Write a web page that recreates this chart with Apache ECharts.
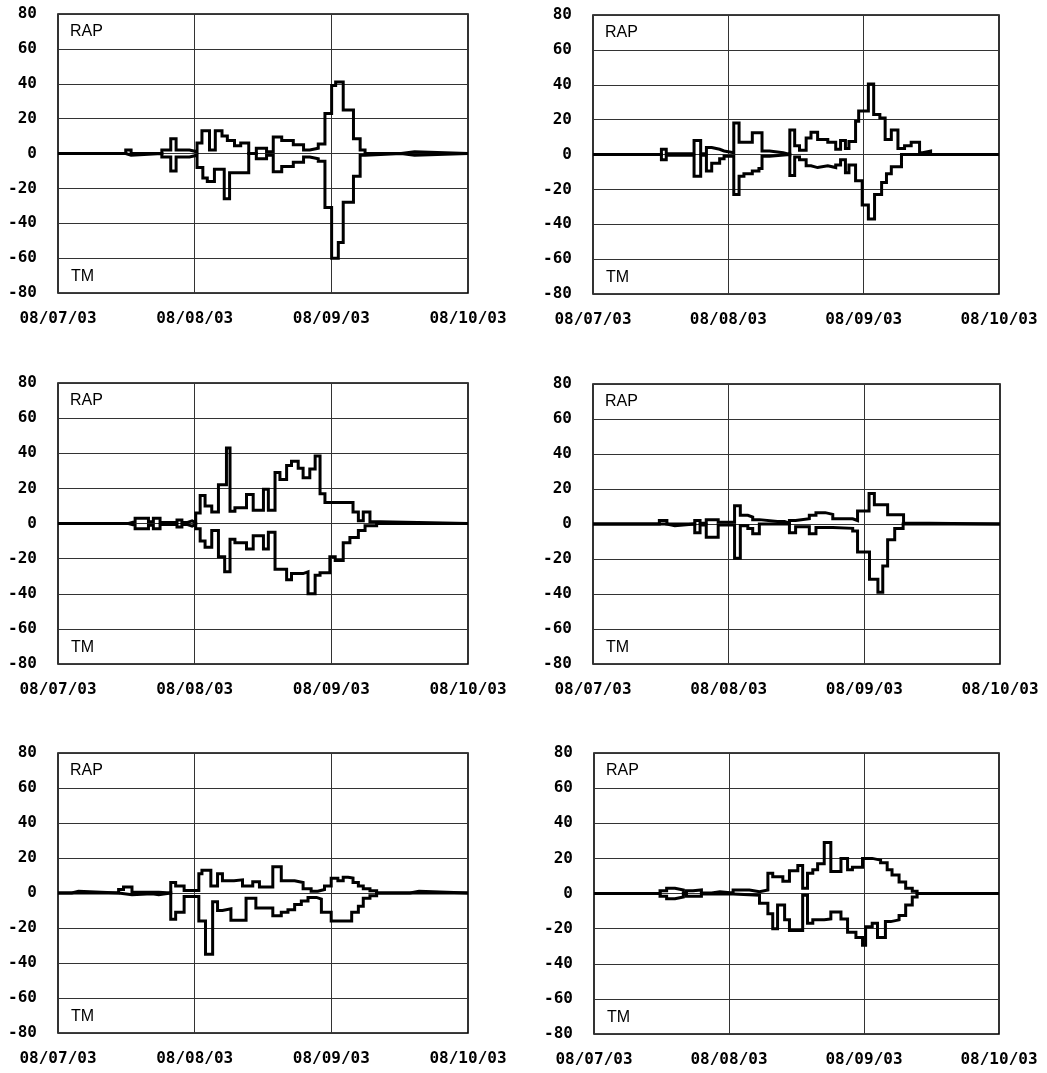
<!DOCTYPE html>
<html><head><meta charset="utf-8">
<script src="https://cdn.jsdelivr.net/npm/echarts@6/dist/echarts.min.js"></script>
<style>html,body{margin:0;padding:0;background:#fff}#c{width:1047px;height:1073px}</style>
</head><body><div id="c"></div>
<script>
// x values are days after 2008-07-03; each pair is [day, value] where the value starts
const tickLabels = ['08/07/03', '08/08/03', '08/09/03', '08/10/03'];
const spanDays = 92;
const topLabel = 'RAP';
const bottomLabel = 'TM';

const rap1 = [[0,0],[15.2,2],[16.4,0],[23.3,2],[25.3,8.5],[26.5,2],[29.5,1],[31.2,6],[32.3,13],[34,2],[35.3,13],[36.8,10],[38,7.5],[39.6,4.5],[41,6],[42.8,0],[44.5,3],[46.8,1],[48.3,9.5],[50.2,7.5],[52.8,5],[55.1,2],[56.5,3],[58.4,5.5],[59.9,23],[61.4,39],[62.3,41],[64.0,25],[66.3,8.5],[67.8,2],[68.9,0],[77,1],[80,0],[92,0]];
const tm1 = [[0,0],[15.2,-1],[16.4,0],[23.3,-2],[25.3,-10],[26.5,-2],[29.5,-1],[31.2,-8],[32.5,-14],[33.5,-16],[35.1,-9],[37.3,-26],[38.5,-11],[42.8,0],[44.5,-3],[46.8,-1],[48.3,-10.5],[50.2,-7.5],[52.8,-5],[55.1,-2],[56.5,-3],[58.4,-4.5],[59.9,-31],[61.4,-60],[62.9,-51],[64.0,-28],[66.3,-13],[67.8,-1],[68.9,0],[77,-1],[80,0],[92,0]];

const rap2 = [[0,0],[15.5,3],[16.6,0.5],[22.9,8],[24.4,0.5],[25.7,4],[26.9,3],[28.7,2],[29.7,1],[31.9,18],[33.1,7],[36.1,12.5],[38.3,2],[40,1],[43.1,0],[44.6,14],[45.7,5],[46.8,2.5],[48.3,9.5],[49.4,12.8],[50.9,8.6],[53.2,7],[55,3],[56.1,8],[57.2,3.5],[58,7.5],[59.5,19],[60.2,25],[62.4,40.5],[63.6,23],[65,21],[66.2,8.6],[67.6,14],[69.1,3.5],[70.6,5],[72.1,7],[74,1],[74.7,2],[76.5,0],[92,0]];
const tm2 = [[0,0],[15.5,-3],[16.6,-0.5],[22.9,-12.5],[24.4,-0.5],[25.7,-9.5],[26.9,-5],[28.7,-2.5],[29.7,-1],[31.9,-23],[33.1,-12.5],[34.2,-11],[36.1,-9.5],[37.6,-8],[38.3,-1],[40,0],[44.6,-12],[45.7,-1.5],[46.8,-3],[48.3,-6.5],[49.4,-7.5],[50.9,-6.5],[53.2,-7.5],[55,-6],[56.1,-3],[57.2,-10.5],[58,-6],[59.5,-15],[61,-29],[62.4,-37],[63.8,-23],[65.4,-16],[66.5,-11],[67.6,-7],[69.9,0],[92,0]];

const rap3 = [[0,0],[15.8,1],[17.3,3],[20.3,1],[21.4,3],[22.9,0.5],[26.7,2],[27.8,0.5],[28.9,1.5],[30.1,0.5],[30.9,6],[31.9,16],[33,10],[34.5,6.5],[36,22],[37.8,43],[38.6,7],[39.7,9],[42.3,16.5],[43.8,7.5],[46.1,19.5],[47.2,7.5],[48.7,29],[49.8,25],[51.3,33],[52.4,35.5],[53.9,31.5],[55,26],[56.5,31],[57.7,38.5],[58.8,17],[59.9,12],[66.2,6.5],[67.4,1.5],[68.5,6.5],[70,1],[72.3,0],[92,0]];
const tm3 = [[0,0],[15.8,-1],[17.3,-3],[20.3,-1],[21.4,-3],[22.9,-0.5],[26.7,-2],[27.8,-0.5],[28.9,-1.5],[30.1,-0.5],[30.9,-3],[31.9,-10],[33,-13.5],[34.5,-4],[36,-19],[37.4,-27.5],[38.6,-9],[39.7,-11],[42.3,-14.5],[43.8,-7],[46.1,-14.5],[47.2,-5],[48.7,-26],[51.3,-32],[52.4,-28.5],[55,-27.5],[56.1,-40],[57.7,-29.5],[58.8,-28],[61,-19],[62.2,-21],[64,-11],[65.5,-8],[67.4,-4],[68.9,-1.3],[71.5,0],[92,0]];

const rap4 = [[0,0],[15,2],[16.7,0],[23,2],[24.2,0.5],[25.6,2.5],[28.3,1],[32,10.5],[33.3,5],[35,4],[36.1,2.5],[37.6,1.5],[41.7,0.5],[42,1.5],[43.3,0.5],[44.4,2],[45.8,3],[48.9,5],[50.4,6.5],[52.5,5.5],[54.2,3],[58.7,2],[59.8,7.5],[62.4,17.5],[63.6,11],[66.6,5.3],[70.2,0.5],[74,0.5],[76,0],[92,0]];
const tm4 = [[0,0],[16.7,-1],[18.5,0],[23,-5],[24.2,-0.5],[25.6,-7.5],[28.3,-0.5],[32,-19.5],[33.3,-1],[35,-2.5],[36.1,-5.5],[37.6,0],[44.4,-5],[45.8,-1.5],[48.9,-5.5],[50.4,-2],[54.2,-2.5],[58.7,-4],[59.8,-16],[62.5,-31.5],[64.4,-39],[65.5,-24],[66.6,-9],[68.2,-2.5],[70.1,0],[92,0]];

const rap5 = [[0,0],[3.1,1],[4.6,0],[13.6,2],[14.7,3.5],[16.6,0.5],[21.1,0.5],[22.6,0],[25.3,6],[26.4,4],[28.3,1.5],[31.6,11],[32.3,13],[34.3,4],[35.8,11],[36.9,7],[39.5,7.5],[41.4,4],[43.7,6.5],[45.2,3.5],[48.2,15],[50.1,7],[53.1,6],[55,2.5],[56.8,1],[58.3,2],[59.8,4],[61.3,8.5],[62.8,7],[64,9],[65.1,8.5],[66.2,6],[67.4,4],[68.5,2.5],[70,1.3],[71.5,0],[79,1],[81,0],[92,0]];
const tm5 = [[0,0],[13.6,-1],[16.6,-0.5],[21.1,-1],[22.6,0],[25.3,-15],[26.4,-11],[28.3,-2],[31.6,-16],[33.1,-35],[34.7,-5],[35.8,-10],[36.9,-9],[38.8,-15.5],[42.2,-3],[44.4,-8.5],[48.2,-13],[50.1,-11],[51.6,-9.5],[53.1,-6.5],[54.6,-4.5],[56.1,-2.5],[58,-3.5],[59.1,-11],[61.3,-16],[65.9,-11],[67.4,-7.5],[68.5,-3],[70,-1.5],[71.5,0],[92,0]];

const rap6 = [[0,0],[15,1.5],[16.5,3],[18.4,2],[20.3,0.3],[21,1.5],[22.5,2],[24.4,0.3],[26.7,1],[28.6,0.3],[31.6,2],[35.3,1],[37.6,2],[39.5,11.5],[40.6,9.5],[42.9,7],[44.4,13],[46.3,16],[47.4,3],[48.5,11.5],[49.7,13.5],[50.8,17],[52.3,29],[53.8,12.5],[56.1,20],[57.6,13.5],[58.7,15],[61,20],[63.2,19],[65.1,17.5],[66.6,13.5],[67.7,10.5],[69.3,6.5],[70.8,3],[72.3,1.3],[73.4,0],[92,0]];
const tm6 = [[0,0],[15,-1.5],[16.5,-3],[18.4,-2],[20.3,-0.3],[21,-1.5],[24.4,-0.3],[31.6,-1],[37.6,-5.5],[39.5,-11.5],[40.6,-20],[41.7,-6.5],[43.3,-15],[44.4,-21],[47.4,-1],[48.5,-17],[49.7,-15],[52.3,-14.5],[53.8,-10.5],[56.1,-14.5],[57.6,-22],[59.5,-25],[61,-29.5],[61.7,-19],[63.2,-17],[64.4,-25],[66.2,-16],[67.4,-15],[69.3,-12.5],[70.8,-6.5],[72.3,-2],[73.4,0],[92,0]];

const panels = [[rap1, tm1], [rap2, tm2], [rap3, tm3], [rap4, tm4], [rap5, tm5], [rap6, tm6]];

const boxes = [
  {left: 58, top: 14, width: 410, height: 279},
  {left: 593, top: 15, width: 406, height: 279},
  {left: 58, top: 383, width: 410, height: 281},
  {left: 593, top: 384, width: 407, height: 280},
  {left: 58, top: 753, width: 410, height: 280},
  {left: 594, top: 753, width: 405, height: 281}
];

const chart = echarts.init(document.getElementById('c'), null, {renderer: 'canvas'});
const tickFont = {color: '#000', fontFamily: 'DejaVu Sans Mono', fontWeight: 'bold', fontSize: 16};
const gridLine = {show: true, lineStyle: {color: '#333', width: 1}};
const step = spanDays / 3;

const option = {
  animation: false,
  backgroundColor: '#fff',
  grid: boxes.map(b => ({left: b.left, top: b.top, width: b.width, height: b.height, show: true, borderColor: '#000', borderWidth: 1.6, containLabel: false})),
  xAxis: boxes.map((b, i) => ({
    type: 'value', gridIndex: i, min: 0, max: spanDays, interval: step,
    axisLine: {show: false}, axisTick: {show: false}, splitLine: gridLine,
    axisLabel: Object.assign({margin: 18, showMinLabel: true, showMaxLabel: true,
      formatter: v => tickLabels[Math.round(v / step)] || ''}, tickFont)
  })),
  yAxis: boxes.map((b, i) => ({
    type: 'value', gridIndex: i, min: -80, max: 80, interval: 20,
    axisLine: {show: false}, axisTick: {show: false}, splitLine: gridLine,
    axisLabel: Object.assign({margin: 21}, tickFont)
  })),
  series: [],
  graphic: []
};
panels.forEach((p, i) => {
  p.forEach(d => option.series.push({
    type: 'line', xAxisIndex: i, yAxisIndex: i, data: d, step: 'end',
    showSymbol: false, symbol: 'none', lineStyle: {color: '#000', width: 3, join: 'miter'}, z: 3
  }));
  const b = boxes[i];
  option.graphic.push({type: 'text', left: b.left + 12, top: b.top + 10, style: {text: topLabel, fill: '#000', font: '16px "Liberation Sans"'}});
  option.graphic.push({type: 'text', left: b.left + 13, top: b.top + b.height - 24, style: {text: bottomLabel, fill: '#000', font: '16px "Liberation Sans"'}});
});
chart.setOption(option);
</script></body></html>
